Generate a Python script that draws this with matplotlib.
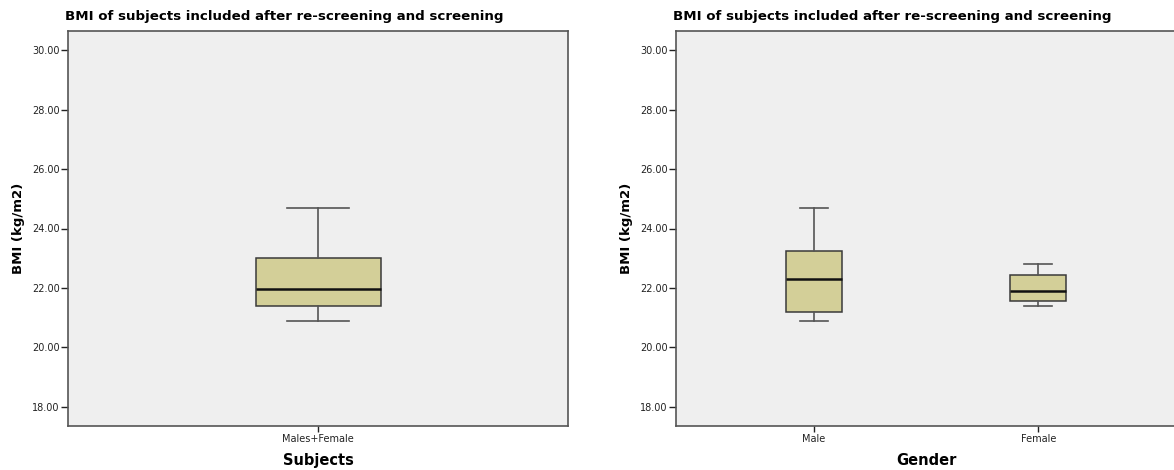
import matplotlib
matplotlib.use("Agg")
import matplotlib.pyplot as plt

# BMI box summaries (kg/m2)
all_labels = ["Males+Female"]
all_whislo = [20.9]
all_q1 = [21.4]
all_med = [21.95]
all_q3 = [23.0]
all_whishi = [24.7]

gender_labels = ["Male", "Female"]
gender_whislo = [20.9, 21.4]
gender_q1 = [21.2, 21.55]
gender_med = [22.3, 21.9]
gender_q3 = [23.25, 22.45]
gender_whishi = [24.7, 22.8]

y_ticks = [18, 20, 22, 24, 26, 28, 30]
title = "BMI of subjects included after re-screening and screening"

W, H = 1174, 470
fig = plt.figure(figsize=(W / 100, H / 100), dpi=100)
fig.patch.set_facecolor("white")

BG = "#efefef"
FILL = "#d3cf98"
EDGE = "#3a3a3a"


def make_stats(labels, lo, q1, med, q3, hi):
    return [dict(label=l, whislo=a, q1=b, med=c, q3=d, whishi=e, fliers=[])
            for l, a, b, c, d, e in zip(labels, lo, q1, med, q3, hi)]


def draw_panel(ax, stats, xlim, xlabel):
    ax.set_facecolor(BG)
    pos = list(range(1, len(stats) + 1))
    ax.bxp(stats, positions=pos, widths=0.25, patch_artist=True,
           showfliers=False,
           boxprops=dict(facecolor=FILL, edgecolor=EDGE, linewidth=1.1),
           medianprops=dict(color="#111111", linewidth=1.8),
           whiskerprops=dict(color="#555555", linewidth=1.2),
           capprops=dict(color="#555555", linewidth=1.2),
           capwidths=0.125)
    ax.set_xlim(*xlim)
    ax.set_ylim(17.36, 30.64)
    ax.set_yticks(y_ticks)
    ax.set_yticklabels([f"{v:.2f}" for v in y_ticks])
    ax.tick_params(axis="y", direction="out", length=5, width=1,
                   labelsize=7, colors="#222222", pad=1)
    ax.tick_params(axis="x", direction="out", length=4, width=1,
                   labelsize=7, colors="#222222", pad=2)
    for s in ax.spines.values():
        s.set_color("#555555")
        s.set_linewidth(1.2)
    ax.set_xlabel(xlabel, fontsize=10.5, fontweight="bold", labelpad=6)
    ax.set_ylabel("BMI (kg/m2)", fontsize=9.5, fontweight="bold", labelpad=5)
    ax.set_title(title, fontsize=9.6, fontweight="bold", loc="left",
                 x=-0.006, pad=8)


bottom = (H - 426) / H
height = 395 / H
ax1 = fig.add_axes([68 / W, bottom, 500 / W, height])
ax2 = fig.add_axes([676 / W, bottom, 500 / W, height])

draw_panel(ax1, make_stats(all_labels, all_whislo, all_q1, all_med, all_q3, all_whishi),
           (0.5, 1.5), "Subjects")
draw_panel(ax2, make_stats(gender_labels, gender_whislo, gender_q1, gender_med,
                           gender_q3, gender_whishi),
           (0.387, 2.613), "Gender")

fig.savefig("out.png", dpi=100)
